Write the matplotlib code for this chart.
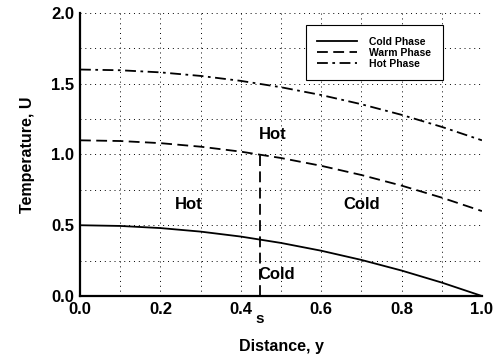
import numpy as np
import matplotlib.pyplot as plt

plt.rcParams['font.family'] = ['Liberation Sans', 'DejaVu Sans']
plt.rcParams['font.weight'] = 'bold'
plt.rcParams['axes.labelweight'] = 'bold'

y_dist = [0.0, 0.1, 0.2, 0.3, 0.4, 0.5, 0.6, 0.7, 0.8, 0.9, 1.0]
cold = [0.5, 0.495, 0.48, 0.455, 0.42, 0.375, 0.32, 0.255, 0.18, 0.095, 0.0]
warm = [1.1, 1.095, 1.08, 1.055, 1.02, 0.975, 0.92, 0.855, 0.78, 0.695, 0.6]
hot = [1.6, 1.595, 1.58, 1.555, 1.52, 1.475, 1.42, 1.355, 1.28, 1.195, 1.1]
s_pos = 0.447
s_top = 1.0

fig = plt.figure(figsize=(4.95, 3.62), dpi=100)
ax = fig.add_axes([0.1616, 0.1823, 0.812, 0.782])

ax.plot(y_dist, cold, 'k-', lw=1.3, label='Cold Phase')
ax.plot(y_dist, warm, 'k', lw=1.3, dashes=(6, 3), label='Warm Phase')
ax.plot(y_dist, hot, 'k', lw=1.3, dashes=(6, 2.5, 1.5, 2.5), label='Hot Phase')
ax.plot([s_pos, s_pos], [0, s_top], 'k', lw=1.3, dashes=(6, 3))

ax.text(0.27, 0.65, 'Hot', fontsize=12, ha='center', va='center')
ax.text(0.48, 1.14, 'Hot', fontsize=12, ha='center', va='center')
ax.text(0.70, 0.65, 'Cold', fontsize=12, ha='center', va='center')
ax.text(0.49, 0.15, 'Cold', fontsize=12, ha='center', va='center')
ax.text(s_pos, -0.16, 's', fontsize=11, ha='center', va='center', clip_on=False)

ax.set_xlim(0, 1)
ax.set_ylim(0, 2)
ax.set_xticks(np.arange(0, 1.01, 0.2))
ax.set_xticks(np.arange(0, 1.01, 0.1), minor=True)
ax.set_yticks(np.arange(0, 2.01, 0.5))
ax.set_yticks(np.arange(0, 2.01, 0.25), minor=True)
ax.grid(True, which='both', color='k', linestyle=(0, (1, 4)), lw=0.7)
ax.tick_params(which='both', length=0, labelsize=12, pad=4)
ax.xaxis.set_major_formatter(plt.FormatStrFormatter('%.1f'))
ax.yaxis.set_major_formatter(plt.FormatStrFormatter('%.1f'))
ax.spines['top'].set_visible(False)
ax.spines['right'].set_visible(False)
ax.spines['left'].set_linewidth(1.6)
ax.spines['bottom'].set_linewidth(1.6)

ax.set_xlabel('Distance, y', fontsize=11.5, labelpad=16)
ax.set_ylabel('Temperature, U', fontsize=11.5, labelpad=12)

leg = ax.legend(loc='upper right', bbox_to_anchor=(0.915, 0.975), fontsize=7.5, handlelength=3.8,
                fancybox=False, framealpha=1, edgecolor='k', borderpad=1.1, labelspacing=0.1,
                handletextpad=1.2)
leg.get_frame().set_linewidth(0.8)

fig.savefig('out.png', dpi=100)
